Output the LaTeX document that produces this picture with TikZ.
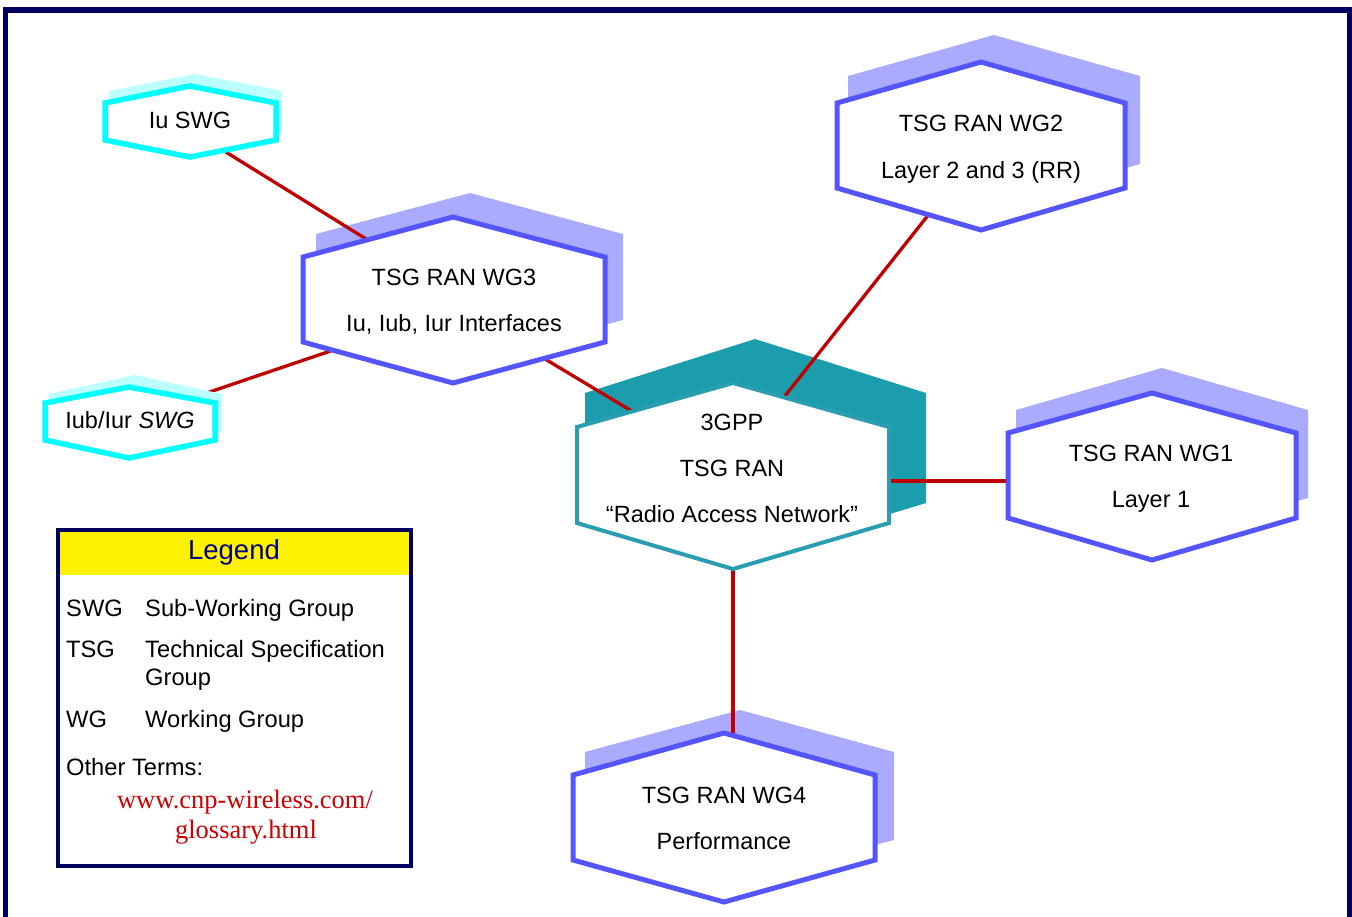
\documentclass[tikz,border=0pt]{standalone}
\usepackage{fontspec}
\setmainfont{Liberation Sans}
\newfontfamily\timesf{Liberation Serif}
\definecolor{navy}{HTML}{000060}
\definecolor{legnavy}{HTML}{000080}
\definecolor{wgline}{HTML}{5555FF}
\definecolor{wgshadow}{HTML}{AAAAFF}
\definecolor{swgline}{HTML}{00FFFF}
\definecolor{swgshadow}{HTML}{BBFFFF}
\definecolor{tealline}{HTML}{2A9DB0}
\definecolor{tealshadow}{HTML}{1C9DAD}
\definecolor{conred}{HTML}{C00000}
\definecolor{urlred}{HTML}{CC0000}
\newcommand\myhex[8]{\path[#1] (#3,#6) -- (#2,#5) -- (#4,#6) -- (#4,#7) -- (#2,#8) -- (#3,#7) -- cycle;}
\begin{document}
\begin{tikzpicture}[x=1pt,y=-1pt,
  wgshad/.style={fill=wgshadow},
  swgshad/.style={fill=swgshadow},
  cshad/.style={fill=tealshadow},
  wgbox/.style={draw=wgline,line width=5,fill=white},
  swgbox/.style={draw=swgline,line width=5.5,fill=white},
  cbox/.style={draw=tealline,line width=4,fill=white},
  conn/.style={draw=conred,line width=3.3},
  lbl/.style={inner sep=0,anchor=base,font=\fontsize{23.5}{28}\selectfont},
  leg/.style={inner sep=0,anchor=base west,font=\fontsize{23.7}{28}\selectfont},
  url/.style={inner sep=0,anchor=base,text=urlred,font=\timesf\fontsize{26.5}{30}\selectfont}]
\useasboundingbox (0,0) rectangle (1352,916);
\fill[white] (0,0) rectangle (1352,916);
% frame
\draw[navy,line width=5.5] (5.5,940) -- (5.5,10) -- (1349.5,10) -- (1349.5,940);
% WG shadows
\myhex{wgshad}{470}{316}{623}{193}{234}{320}{360}
\myhex{wgshad}{994}{848}{1140}{35}{76}{164}{205}
\myhex{wgshad}{1162}{1016}{1308}{368}{410}{498}{540}
\myhex{wgshad}{740}{585}{894}{710}{752}{840}{880}
\myhex{cshad}{755}{585}{926}{339}{393}{503}{555}
% connector end points
\coordinate (iuE) at (200,136);
\coordinate (wg3A) at (400,260);
\coordinate (iubE) at (180,402);
\coordinate (wg3B) at (360,341);
\coordinate (wg3C) at (500,332);
\coordinate (ranA) at (680,440);
\coordinate (wg2A) at (956,180);
\coordinate (ranB) at (758,430);
\coordinate (ranC) at (850,481);
\coordinate (wg1A) at (1050,481);
\coordinate (ranD) at (733,540);
\coordinate (wg4A) at (733,760);
\draw[conn] (iuE) -- (wg3A);
\draw[conn] (iubE) -- (wg3B);
\draw[conn] (wg3C) -- (ranA);
\draw[conn] (wg2A) -- (ranB);
\draw[conn] (ranC) -- (wg1A);
\draw[conn] (ranD) -- (wg4A);
% SWG shadows
\myhex{swgshad}{195}{109}{282}{74}{91}{133}{150}
\myhex{swgshad}{135}{49}{222}{375}{394}{432}{450}
% boxes
\myhex{swgbox}{190}{105}{276}{86}{103}{140}{157}
\myhex{swgbox}{129}{45}{215}{387}{403}{440}{458}
\myhex{wgbox}{453}{303}{605}{217}{257}{342}{383}
\myhex{wgbox}{981}{837}{1125}{62}{103}{188}{230}
\myhex{wgbox}{1152}{1008}{1296}{393}{433}{518}{560}
\myhex{wgbox}{724}{573}{875}{733}{775}{860}{902}
\myhex{cbox}{733}{577}{889}{383}{427}{523}{569}
% labels
\node[lbl] (iu) at (190,128) {Iu SWG};
\node[lbl] (iub) at (130,428) {Iub/Iur \textit{SWG}};
\node[lbl] (wg3a) at (454,285) {TSG RAN WG3};
\node[lbl] (wg3b) at (454,331) {Iu, Iub, Iur Interfaces};
\node[lbl] (wg2a) at (981,131) {TSG RAN WG2};
\node[lbl] (wg2b) at (981,178) {Layer 2 and 3 (RR)};
\node[lbl] (wg1a) at (1151,461) {TSG RAN WG1};
\node[lbl] (wg1b) at (1151,507) {Layer 1};
\node[lbl] (wg4a) at (724,803) {TSG RAN WG4};
\node[lbl] (wg4b) at (724,849) {Performance};
\node[lbl] (rana) at (732,430) {3GPP};
\node[lbl] (ranb) at (732,476) {TSG RAN};
\node[lbl] (ranc) at (732,522) {“Radio Access Network”};
% legend
\fill[yellow] (58,530) rectangle (411,575);
\draw[navy,line width=4] (58,530) rectangle (411,866);
\node[inner sep=0,anchor=base,text=legnavy,font=\fontsize{27.5}{32}\selectfont] (legt) at (234,559) {Legend};
\node[leg] (l1a) at (66,616) {SWG};
\node[leg] (l1b) at (145,616) {Sub-Working Group};
\node[leg] (l2a) at (66,657) {TSG};
\node[leg] (l2b) at (145,657) {Technical Specification};
\node[leg] (l2c) at (145,685) {Group};
\node[leg] (l3a) at (66,727) {WG};
\node[leg] (l3b) at (145,727) {Working Group};
\node[leg] (l4) at (66,775) {Other Terms:};
\node[url] (u1) at (245,808) {www.cnp-wireless.com/};
\node[url] (u2) at (246,838) {glossary.html};
\end{tikzpicture}
\end{document}
